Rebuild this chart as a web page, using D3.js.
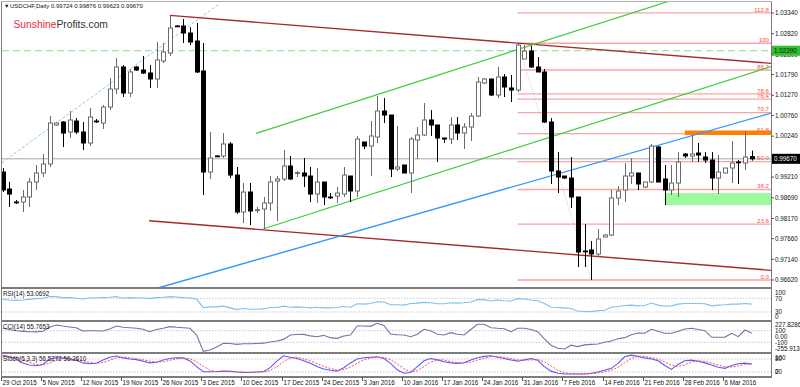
<!DOCTYPE html>
<html><head><meta charset="utf-8">
<script src="https://cdn.jsdelivr.net/npm/d3@7"></script>
<style>body{margin:0;background:#fff;} svg{display:block;} text{font-family:"Liberation Sans",Arial,sans-serif;}</style>
</head><body><svg id="c" width="800" height="387"></svg>
<script>
const open=[0.99338,0.98910,0.98583,0.98583,0.98709,0.99086,0.99313,0.99539,1.00521,1.00596,1.00345,1.00621,1.00345,1.00068,1.00621,1.00571,1.00974,1.01427,1.01981,1.01326,1.01981,1.01905,1.01830,1.01679,1.02132,1.02333,1.03013,1.03013,1.02836,1.02635,1.01880,0.99338,0.99741,0.99741,1.00043,0.99262,0.98331,0.98834,0.98381,0.98407,0.98558,0.99111,0.99162,0.99489,0.99313,0.99313,0.99237,0.98784,0.99086,0.98709,0.98734,0.98784,0.99237,0.98860,1.00093,0.99992,1.00219,1.00873,1.00772,0.99413,0.99514,0.99313,1.00143,1.00269,1.00647,1.00521,1.00194,1.00168,1.00521,1.00319,1.00470,1.00747,1.01578,1.01679,1.01276,1.01729,1.01452,1.01402,1.02182,1.02383,1.01981,1.01855,1.00596,0.99363,0.99237,0.99187,0.98709,0.97349,0.97375,0.97274,0.97702,0.97752,0.98683,0.98885,0.99237,0.99313,0.98960,0.99086,0.99967,0.99162,0.98885,0.99061,0.99791,0.99741,0.99816,0.99715,0.99640,0.99187,0.99313,0.99438,0.99590,0.99564,0.99724];
const high=[0.99438,0.99086,0.98633,0.98885,0.99187,0.99514,0.99791,1.00747,1.00596,1.00621,1.00873,1.00697,1.00596,1.00949,1.00672,1.01024,1.01704,1.02207,1.02031,1.01930,1.02010,1.02258,1.02031,1.02610,1.02585,1.03264,1.03038,1.03189,1.02987,1.03088,1.02585,1.00345,0.99766,1.00319,1.00093,0.99464,0.99061,0.99061,0.98457,0.98709,0.99237,0.99237,0.99892,0.99741,0.99363,0.99690,0.99464,0.99438,0.99086,0.98809,0.98960,0.99464,0.99237,1.00244,1.00093,1.00621,1.01251,1.01200,1.00772,1.00496,0.99514,1.00219,1.00470,1.01075,1.00898,1.00521,1.00194,1.00722,1.00722,1.00571,1.00823,1.01729,1.01704,1.01679,1.01981,1.01804,1.01779,1.02585,1.02534,1.02509,1.02232,1.01930,1.00697,0.99841,0.99237,0.99715,0.98709,0.98029,0.97601,0.97903,0.97777,0.98885,0.98985,0.99564,0.99690,0.99313,0.99086,1.00043,0.99992,0.99514,0.99514,0.99841,0.99816,1.00269,1.00068,0.99841,0.99841,0.99766,0.99438,1.00118,0.99640,1.00370,0.99876];
const low=[0.98834,0.98457,0.98532,0.98331,0.98457,0.98885,0.99212,0.99464,1.00496,0.99967,1.00194,1.00294,0.99892,0.99992,1.00571,1.00420,1.00898,1.01301,1.01226,1.01226,1.01880,1.01804,1.01452,1.01452,1.02081,1.02258,1.02987,1.02585,1.02534,1.01830,0.98759,0.99162,0.99715,0.99690,0.99187,0.98281,0.98054,0.98004,0.98306,0.97903,0.98356,0.98104,0.99111,0.99136,0.99212,0.98960,0.98583,0.98558,0.98507,0.98658,0.98558,0.98709,0.98583,0.98709,0.99917,0.99237,1.00068,1.00571,0.99212,0.99363,0.99313,0.98809,0.99665,1.00244,1.00244,0.99590,1.00068,1.00043,1.00143,0.99917,1.00118,1.00722,1.01553,1.01251,1.01200,1.01226,1.01100,1.01351,1.02182,1.01955,1.01855,1.00571,0.99036,0.98809,0.99162,0.98432,0.96947,0.96947,0.96620,0.97198,0.97702,0.97727,0.98507,0.98583,0.99036,0.98885,0.98935,0.99061,0.99086,0.98507,0.98759,0.98709,0.99690,0.99590,0.99590,0.99564,0.98885,0.98784,0.99313,0.99061,0.99036,0.99388,0.99623];
const close=[0.98885,0.98784,0.98570,0.98709,0.99086,0.99313,0.99539,1.00571,1.00571,1.00319,1.00647,1.00345,1.00068,1.00722,1.00610,1.00974,1.01427,1.01981,1.01326,1.01855,1.01905,1.01830,1.01679,1.02157,1.02358,1.02962,1.03000,1.02836,1.02610,1.01855,0.99338,0.99690,0.99735,1.00043,0.99262,0.98331,0.98834,0.98356,0.98390,0.98558,0.99086,0.99162,0.99489,0.99162,0.99320,0.99237,0.98784,0.99086,0.98709,0.98700,0.98809,0.99262,0.98860,1.00168,0.99992,1.00244,1.00873,1.00772,0.99413,0.99464,0.99313,1.00168,1.00269,1.00647,1.00521,1.00194,1.00168,1.00521,1.00319,1.00470,1.00747,1.01603,1.01679,1.01276,1.01729,1.01477,1.01402,1.02534,1.02383,1.01981,1.01855,1.00596,0.99363,0.99212,0.99187,0.98709,0.97324,0.97340,0.97274,0.97651,0.97752,0.98683,0.98860,0.99237,0.99313,0.99036,0.99086,0.99992,0.99086,0.98885,0.99061,0.99590,0.99741,0.99791,0.99766,0.99640,0.99187,0.99338,0.99438,0.99564,0.99570,0.99715,0.99670];
const rsi=[67,65,64,65,67,69,70,75,75,72,72,70,68,71,71,72,73,75,70,72,71,71,69,72,73,75,74,72,71,67,43,45,45,47,42,37,40,38,38,39,43,43,47,44,45,44,42,44,42,42,43,46,44,54,53,55,60,59,51,51,50,55,56,58,57,54,54,57,56,57,59,66,66,62,65,63,62,69,68,65,63,55,44,43,42,40,32,32,31,34,35,44,46,49,50,48,49,56,50,47,48,53,55,55,55,54,48,50,51,53,53,55,53.0692];
const cci=[141,120,100,88,83,80,90,160,198,180,165,150,95,100,98,95,130,181,160,150,141,125,83,120,141,170,160,150,141,26,-255.913,-233,-180,-118,-120,-135,-125,-125,-120,-115,-95,-78,-50,26,35,37,10,-3,20,-20,-32,10,26,181,180,175,227.8286,190,43,30,26,-3,40,124,100,40,26,66,40,26,120,210,210,152,141,135,83,141,141,120,83,-40,-150,-204,-216,-150,-175,-145,-135,-130,-100,-78,-40,-20,30,60,55,124,90,55,55,90,130,141,120,100,-14,-14,-10,55,-3,112,55.7653];
const stochMain=[97,90,80,62,52,49,55,80,86,84,80,74,62,58,60,75,88,94,85,80,77,70,62,65,75,82,86,85,71,45,21,21,22,24,23,20,18,18,20,22,40,70,95,88,82,72,60,45,34,28,24,40,62,80,86,88,90,82,60,30,14,18,45,72,82,76,67,62,60,63,75,86,92,95,88,82,75,70,76,82,74,45,24,14,11,11,11,11,14,20,28,37,60,90,98,92,85,80,72,50,32,55,72,75,70,62,52,42,37,50,58,61,56.5272];
const stochSignal=[92,93,89,77,65,54,52,61,74,83,83,79,72,65,60,64,74,86,89,86,81,76,70,66,67,74,81,84,81,67,46,29,21,22,23,22,20,19,19,20,27,44,68,84,88,81,71,59,46,36,29,31,42,61,76,85,88,87,77,57,35,21,26,45,66,77,75,68,63,62,66,75,84,91,92,88,82,76,74,76,77,67,48,28,16,12,11,11,12,15,21,28,42,62,83,93,92,86,79,67,51,46,53,67,72,69,61,52,44,43,48,56,56.2610];
const dateLabels=["29 Oct 2015","5 Nov 2015","12 Nov 2015","19 Nov 2015","26 Nov 2015","3 Dec 2015","10 Dec 2015","17 Dec 2015","24 Dec 2015","3 Jan 2016","10 Jan 2016","17 Jan 2016","24 Jan 2016","31 Jan 2016","7 Feb 2016","14 Feb 2016","21 Feb 2016","28 Feb 2016","6 Mar 2016"];
const priceTicks=[1.03340,1.02820,1.02300,1.01790,1.01270,1.00760,1.00240,0.99210,0.98690,0.98170,0.97660,0.97140,0.96620];
const fibLevels=[0,23.6,38.2,50,61.8,70.7,76.4,78.6,88.7,100,112.8];
const fibLabels=["0.0","23.6","38.2","50.0","61.8","70.7","76.4","78.6","88.7","100","112.8"];
const fibLow=0.96620, fibHigh=1.02580;
const rsiTicks=[100,70,30,0];
const cciTicks=[[227.8286,"227.8286"],[100,"100"],[0,"0.00"],[-100,"-100"],[-255.913,"-255.913"]];
const stochTicks=[100,80,20,0];
// trend lines: [bar index1, price1, bar index2, price2]
const redUpper=[25,1.03280,114.8,1.02074];
const redLower=[21.9,0.98112,114.8,0.96864];
const greenUpper=[37.9,1.00312,59.4,1.01470];
const greenLower=[38.9,0.97903,114.8,1.01988];
const blueLine=[23.2,0.96418,114.8,1.00816];
const lightBlue=[-0.1,0.99572,32.5,1.03584];
const resistance=[102,1.00383,1.00269];
const support=[99,0.98809,0.98507];
const resLevel=1.02390, lastPrice=0.99670;

const svg=d3.select("#c");
const L=2,R=771,mT=2,mB=288,rT=288,rB=321,cT=321,cB=353,sT=353,sB=377;
const n=close.length;
const x=d3.scaleLinear().domain([0,n-1]).range([2.7,751.7]);
const y=d3.scaleLinear().domain([0.96620,1.03340]).range([280,13]);
const yr=d3.scaleLinear().domain([30,70]).range([312,298.3]);
const yc=d3.scaleLinear().domain([-100,100]).range([342.3,330.7]);
const ys=d3.scaleLinear().domain([20,80]).range([372,359]);

const defs=svg.append("defs");
defs.append("clipPath").attr("id","mclip").append("rect").attr("x",L).attr("y",mT).attr("width",R-L).attr("height",mB-mT);
const g=svg.append("g").attr("clip-path","url(#mclip)");
function seg(arr,col,w,dash){
  const [i1,p1,i2,p2]=arr;
  const l=g.append("line").attr("x1",x(i1)).attr("y1",y(p1)).attr("x2",x(i2)).attr("y2",y(p2)).attr("stroke",col).attr("stroke-width",w);
  if(dash) l.attr("stroke-dasharray",dash);
  return l;
}
function extend(arr){
  const [i1,p1,i2,p2]=arr; const ie=x.invert(R+10); return [i1,p1,ie,p1+(p2-p1)*(ie-i1)/(i2-i1)];
}
g.append("rect").attr("x",x(support[0])).attr("width",R-x(support[0])).attr("y",y(support[1])).attr("height",y(support[2])-y(support[1])).attr("fill","#9cf99c");
const fx=x(77);
fibLevels.forEach((lv,k)=>{
  const p=fibLow+(fibHigh-fibLow)*lv/100;
  g.append("line").attr("x1",fx).attr("x2",R).attr("y1",y(p)).attr("y2",y(p)).attr("stroke","#f7a5a5").attr("stroke-width",1.4);
  g.append("text").attr("x",R-2).attr("y",y(p)-1.2).attr("text-anchor","end").attr("font-size",6.2).attr("fill","#ff4a4a").text(fibLabels[k]);
});
g.append("rect").attr("x",x(resistance[0])).attr("width",R-x(resistance[0])).attr("y",y(resistance[1])).attr("height",y(resistance[2])-y(resistance[1])).attr("fill","#ff8000");
g.append("line").attr("x1",L).attr("x2",R).attr("y1",y(lastPrice)).attr("y2",y(lastPrice)).attr("stroke","#a8a8a8").attr("stroke-width",1);
g.append("line").attr("x1",L).attr("x2",R).attr("y1",y(resLevel)).attr("y2",y(resLevel)).attr("stroke","#88e088").attr("stroke-width",1).attr("stroke-dasharray","7,4");
g.append("line").attr("x1",x(77)).attr("y1",y(fibHigh)).attr("x2",x(88)).attr("y2",y(fibLow)).attr("stroke","#b8b8b8").attr("stroke-width",0.8).attr("stroke-dasharray","1,1.5");
seg(lightBlue,"#8ec6f2",1,"3,2");
seg(extend(redUpper),"#a52a2a",1.4);
seg(extend(redLower),"#a52a2a",1.4);
seg(extend(greenUpper),"#3ccc3c",1.2);
seg(extend(greenLower),"#3ccc3c",1.2);
seg(extend(blueLine),"#3399ff",1.4);
for(let i=0;i<n;i++){
  const cx=Math.round(x(i))+0.5, bull=close[i]>=open[i];
  const col=bull?"#6a6a6a":"#000";
  g.append("line").attr("x1",cx).attr("x2",cx).attr("y1",y(high[i])).attr("y2",y(low[i])).attr("stroke",col).attr("stroke-width",1);
  const t=y(Math.max(open[i],close[i])), b=y(Math.min(open[i],close[i]));
  g.append("rect").attr("x",cx-2).attr("width",4).attr("y",t).attr("height",Math.max(0.8,b-t))
   .attr("fill",bull?"#fff":"#000").attr("stroke",col).attr("stroke-width",1);
}
function indLine(data,sc,col,w,dash){
  const l=svg.append("path").datum(data).attr("fill","none").attr("stroke",col).attr("stroke-width",w)
   .attr("d",d3.line().x((d,i)=>x(i)).y(d=>sc(d)));
  if(dash) l.attr("stroke-dasharray",dash);
}
function hdot(yy){svg.append("line").attr("x1",L).attr("x2",R).attr("y1",yy).attr("y2",yy).attr("stroke","#b0b0b0").attr("stroke-width",0.7).attr("stroke-dasharray","1.5,1.5");}
hdot(yr(70));hdot(yr(30));hdot(yc(100));hdot(yc(-100));hdot(ys(80));hdot(ys(20));
indLine(rsi,yr,"#7fc1f0",1.1);
indLine(cci,yc,"#7474a6",1.1);
indLine(stochMain,ys,"#5a5aff",1.1);
indLine(stochSignal,ys,"#ff4d4d",1,"2,1.5");
const fr=svg.append("g").attr("stroke","#7c7c7c").attr("fill","none");
fr.append("line").attr("x1",1.5).attr("x2",1.5).attr("y1",1).attr("y2",sB+1);
fr.append("line").attr("x1",R+0.5).attr("x2",R+0.5).attr("y1",1).attr("y2",sB+1);
fr.append("line").attr("x1",1).attr("x2",R+1).attr("y1",1.5).attr("y2",1.5).attr("stroke","#b0b0b0");
[mB,cT,sT,sB].forEach(v=>fr.append("line").attr("x1",1).attr("x2",R+1).attr("y1",v).attr("y2",v).attr("stroke-width",2));
const fs=6.3;
priceTicks.forEach(p=>{
  svg.append("line").attr("x1",R).attr("x2",R+3).attr("y1",y(p)).attr("y2",y(p)).attr("stroke","#555");
  svg.append("text").attr("x",R+4).attr("y",y(p)+2.2).attr("font-size",fs).attr("fill","#111").text(p.toFixed(5));
});
function boxLabel(p,bg,fg){
  svg.append("rect").attr("x",R+1).attr("y",y(p)-5).attr("width",28).attr("height",10).attr("fill",bg);
  svg.append("text").attr("x",R+3).attr("y",y(p)+2.2).attr("font-size",fs).attr("fill",fg).text(p.toFixed(5));
}
boxLabel(resLevel,"#30c030","#0a200a");
boxLabel(lastPrice,"#000","#fff");
function clampT(v,a,b){return Math.max(a,Math.min(b,v));}
rsiTicks.forEach(v=>svg.append("text").attr("x",R+4).attr("y",clampT(yr(v),rT+4.5,rB-4.5)+2.2).attr("font-size",fs).attr("fill","#111").text(v));
cciTicks.forEach(([v,s])=>svg.append("text").attr("x",R+4).attr("y",clampT(yc(v),cT+4,cB-4.5)+2.2).attr("font-size",fs).attr("fill","#111").text(s));
stochTicks.forEach(v=>svg.append("text").attr("x",R+4).attr("y",clampT(ys(v),sT+5,sB-5)+2.2).attr("font-size",fs).attr("fill","#111").text(v));
dateLabels.forEach((s,k)=>{
  const xx=Math.round(x(k*6))-1.5;
  svg.append("line").attr("x1",xx).attr("x2",xx).attr("y1",sB).attr("y2",sB+4).attr("stroke","#555");
  svg.append("text").attr("x",xx+1).attr("y",384.5).attr("font-size",fs).attr("fill","#111").text(s);
});
svg.append("text").attr("x",4).attr("y",8.2).attr("font-size",5.5).attr("fill","#111").text("\u25BC");
svg.append("text").attr("x",10).attr("y",8.3).attr("font-size",6).attr("fill","#111").text("USDCHF,Daily  0.99724 0.99876 0.99623 0.99670");
const brand=svg.append("text").attr("x",13.5).attr("y",28.3).attr("font-size",10.3);
brand.append("tspan").attr("fill","#e8283c").text("Sunshine");
brand.append("tspan").attr("fill","#333").text("Profits.com");
svg.append("text").attr("x",3).attr("y",295.5).attr("font-size",fs).attr("fill","#111").text("RSI(14) 53.0692");
svg.append("text").attr("x",3).attr("y",328.8).attr("font-size",fs).attr("fill","#111").text("CCI(14) 55.7653");
svg.append("text").attr("x",3).attr("y",361).attr("font-size",fs).attr("fill","#111").text("Stoch(5,3,3) 56.5272 56.2610");
</script></body></html>
